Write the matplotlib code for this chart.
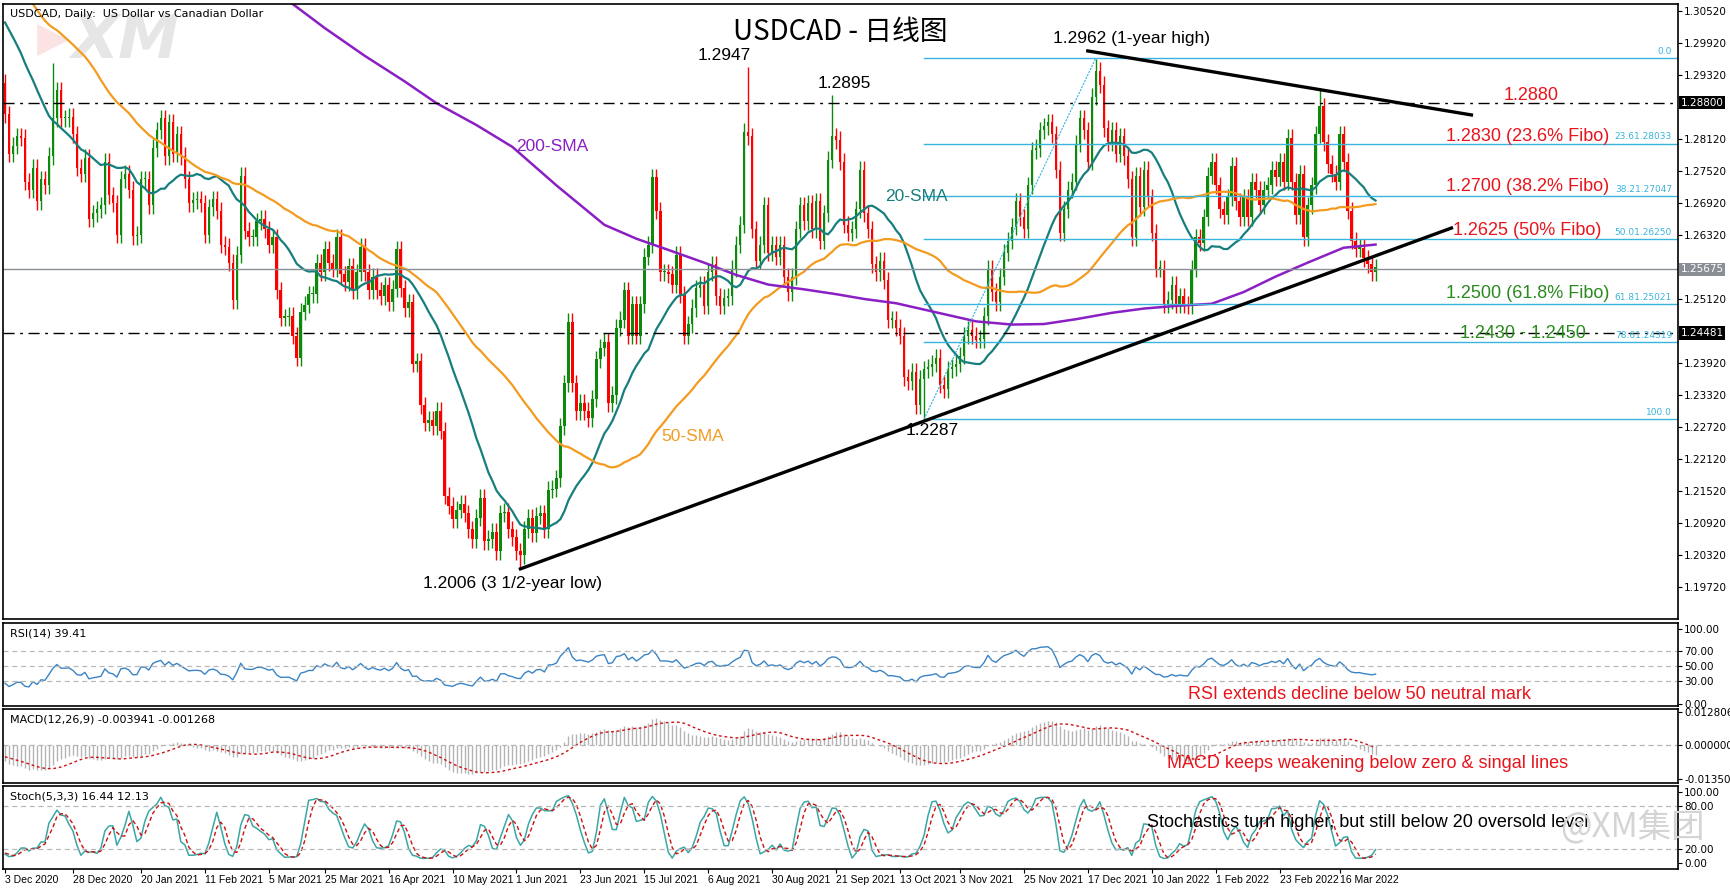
import matplotlib

matplotlib.use("Agg")
import matplotlib.pyplot as plt
import matplotlib.transforms as mtransforms
import numpy as np
import pandas as pd

# ---- data --------------------------------------------------------------
# closes before the visible window (only used to seed the indicators)
pre_closes = [
    1.3230, 1.3280, 1.3330, 1.3350, 1.3320, 1.3310, 1.3320, 1.3260, 1.3240, 1.3280,
    1.3200, 1.3160, 1.3130, 1.3140, 1.3170, 1.3200, 1.3180, 1.3170, 1.3140, 1.3120,
    1.3140, 1.3150, 1.3190, 1.3250, 1.3330, 1.3330, 1.3280, 1.3170, 1.3090, 1.3060,
    1.3100, 1.3060, 1.3080, 1.3110, 1.3120, 1.3100, 1.3050, 1.3070, 1.3050, 1.3070,
    1.3060, 1.3090, 1.3040, 1.3020, 1.3000, 1.2990, 1.2990, 1.2980, 1.2950, 1.2920,
]
first_open = 1.2917
closes = [
    # Dec 2020 - May 2021
    1.2858, 1.2784, 1.2799, 1.2817, 1.2814, 1.2732, 1.2717, 1.2758, 1.2695, 1.2736,
    1.2725, 1.2780, 1.2851, 1.2903, 1.2851, 1.2851, 1.2854, 1.2821, 1.2758, 1.2747,
    1.2777, 1.2662, 1.2673, 1.2680, 1.2688, 1.2769, 1.2706, 1.2691, 1.2632, 1.2736,
    1.2747, 1.2717, 1.2630, 1.2632, 1.2736, 1.2736, 1.2688, 1.2795, 1.2828, 1.2851,
    1.2780, 1.2843, 1.2784, 1.2821, 1.2780, 1.2736, 1.2691, 1.2697, 1.2699, 1.2691,
    1.2632, 1.2684, 1.2699, 1.2677, 1.2614, 1.2610, 1.2580, 1.2510, 1.2595, 1.2743,
    1.2640, 1.2628, 1.2628, 1.2658, 1.2662, 1.2643, 1.2614, 1.2628, 1.2528, 1.2477,
    1.2478, 1.2480, 1.2443, 1.2402, 1.2488, 1.2501, 1.2521, 1.2521, 1.2580, 1.2562,
    1.2605, 1.2580, 1.2569, 1.2628, 1.2558, 1.2543, 1.2573, 1.2528, 1.2562, 1.2610,
    1.2562, 1.2528, 1.2554, 1.2528, 1.2517, 1.2538, 1.2506, 1.2531, 1.2605, 1.2532,
    1.2495, 1.2506, 1.2391, 1.2395, 1.2313, 1.2280, 1.2286, 1.2273, 1.2302, 1.2265,
    1.2143, 1.2124, 1.2099, 1.2117, 1.2128,
    # May 2021 - Sep 2021
    1.2110, 1.2080, 1.2062, 1.2102, 1.2139, 1.2058, 1.2062, 1.2076, 1.2039, 1.2110,
    1.2113, 1.2080, 1.2065, 1.2039, 1.2032, 1.2080, 1.2102, 1.2073, 1.2106, 1.2110,
    1.2080, 1.2154, 1.2156, 1.2176, 1.2273, 1.2354, 1.2469, 1.2354, 1.2302, 1.2317,
    1.2302, 1.2288, 1.2325, 1.2399, 1.2421, 1.2432, 1.2317, 1.2332, 1.2458, 1.2473,
    1.2528, 1.2443, 1.2502, 1.2443, 1.2502, 1.2591, 1.2614, 1.2740, 1.2677, 1.2562,
    1.2562, 1.2558, 1.2539, 1.2595, 1.2521, 1.2443, 1.2465, 1.2495, 1.2532, 1.2539,
    1.2499, 1.2562, 1.2577, 1.2517, 1.2499, 1.2514, 1.2517, 1.2569, 1.2614, 1.2651,
    1.2825, 1.2817, 1.2643, 1.2584, 1.2614, 1.2688, 1.2599, 1.2614, 1.2591, 1.2614,
    1.2554, 1.2525, 1.2554, 1.2643, 1.2688, 1.2658, 1.2691, 1.2643, 1.2695, 1.2621,
    1.2673, 1.2773, 1.2817, 1.2810, 1.2769, 1.2651, 1.2636, 1.2643, 1.2680, 1.2754,
    1.2673, 1.2643, 1.2577, 1.2562, 1.2584, 1.2547, 1.2473, 1.2473, 1.2458, 1.2443,
    # Oct 2021 - Mar 2022
    1.2365, 1.2358, 1.2376, 1.2313, 1.2362, 1.2380, 1.2384, 1.2391, 1.2402, 1.2351,
    1.2343, 1.2380, 1.2384, 1.2391, 1.2406, 1.2443, 1.2454, 1.2443, 1.2436, 1.2437,
    1.2480, 1.2569, 1.2525, 1.2506, 1.2554, 1.2599, 1.2621, 1.2647, 1.2695, 1.2665,
    1.2643, 1.2725, 1.2791, 1.2795, 1.2828, 1.2836, 1.2843, 1.2821, 1.2754, 1.2636,
    1.2680, 1.2717, 1.2732, 1.2803, 1.2851, 1.2828, 1.2769, 1.2891, 1.2940, 1.2914,
    1.2832, 1.2806, 1.2828, 1.2784, 1.2817, 1.2780, 1.2736, 1.2628, 1.2743, 1.2684,
    1.2754, 1.2703, 1.2636, 1.2569, 1.2569, 1.2502, 1.2510, 1.2539, 1.2502, 1.2517,
    1.2502, 1.2499, 1.2569, 1.2628, 1.2617, 1.2665, 1.2743, 1.2769, 1.2725, 1.2680,
    1.2669, 1.2703, 1.2762, 1.2695, 1.2665, 1.2703, 1.2665, 1.2732, 1.2717, 1.2688,
    1.2717, 1.2725, 1.2754, 1.2740, 1.2769, 1.2732, 1.2814, 1.2732, 1.2669, 1.2747,
    1.2628, 1.2688, 1.2725, 1.2821, 1.2873, 1.2806, 1.2765, 1.2747, 1.2732, 1.2821,
    1.2769, 1.2677, 1.2621, 1.2606, 1.2608, 1.2588, 1.2577, 1.2562, 1.2571,
]
spike_highs = {12: 1.2955, 186: 1.2947, 207: 1.2895, 273: 1.2962, 329: 1.2903}
spike_lows = {129: 1.2006, 230: 1.2287}
wick = 0.0016

sma200_bars = [0, 40, 72, 80, 90, 100, 108, 118, 127, 138, 150, 158, 166, 175, 183, 191, 200, 208,
               215, 223, 233, 243, 252, 260, 268, 277, 285, 293, 302, 310, 318, 326, 335, 343]
sma200_vals = [1.345, 1.323, 1.3065, 1.3020, 1.2968, 1.2920, 1.2879, 1.2838, 1.2797, 1.2725,
               1.2651, 1.2625, 1.2604, 1.2580, 1.2557, 1.2539, 1.2530, 1.2521, 1.2512, 1.2504,
               1.2487, 1.2470, 1.2464, 1.2465, 1.2474, 1.2486, 1.2494, 1.2499, 1.2503, 1.2525,
               1.2554, 1.2580, 1.2608, 1.2614]

fib_ratios = ["0.0", "23.6", "38.2", "50.0", "61.8", "78.6", "100.0"]
fib_levels = [1.29637, 1.28033, 1.27047, 1.26250, 1.25021, 1.24319, 1.22866]
fib_start_bar = 230

date_labels = ["3 Dec 2020", "28 Dec 2020", "20 Jan 2021", "11 Feb 2021", "5 Mar 2021", "25 Mar 2021",
               "16 Apr 2021", "10 May 2021", "1 Jun 2021", "23 Jun 2021", "15 Jul 2021", "6 Aug 2021",
               "30 Aug 2021", "21 Sep 2021", "13 Oct 2021", "3 Nov 2021", "25 Nov 2021", "17 Dec 2021",
               "10 Jan 2022", "1 Feb 2022", "23 Feb 2022", "16 Mar 2022"]

support_res = [1.2880, 1.24481]
last_price = 1.25675

# ---- derived series ----------------------------------------------------
n = len(closes)
x = np.arange(n)
dates = pd.bdate_range("2020-12-03", periods=n)
c = np.array(closes)
o = np.array([first_open] + closes[:-1])
h = np.maximum(o, c) + wick
l = np.minimum(o, c) - wick
for k, v in spike_highs.items():
    h[k] = v
for k, v in spike_lows.items():
    l[k] = v

full_c = pd.Series(pre_closes + closes)
full_o = pd.Series([pre_closes[0]] + pre_closes + closes[:-1])
full_h = pd.Series(np.r_[np.maximum(full_o[:len(pre_closes)], pre_closes) + wick, h])
full_l = pd.Series(np.r_[np.minimum(full_o[:len(pre_closes)], pre_closes) - wick, l])
m = len(pre_closes)

sma20 = full_c.rolling(20, min_periods=1).mean().values[m:]
sma50 = full_c.rolling(50, min_periods=1).mean().values[m:]

diff = full_c.diff()
up = diff.clip(lower=0).ewm(alpha=1 / 14, adjust=False).mean()
dn = (-diff.clip(upper=0)).ewm(alpha=1 / 14, adjust=False).mean()
rsi = (100 - 100 / (1 + up / dn)).values[m:]

macd = full_c.ewm(span=12, adjust=False).mean() - full_c.ewm(span=26, adjust=False).mean()
signal = macd.rolling(9).mean()
macd, signal = macd.values[m:], signal.values[m:]

ll = full_l.rolling(5).min()
hh = full_h.rolling(5).max()
stoch_k = ((full_c - ll).rolling(3).sum() / (hh - ll).rolling(3).sum() * 100)
stoch_d = stoch_k.rolling(3).mean()
stoch_k, stoch_d = stoch_k.values[m:], stoch_d.values[m:]

# ---- figure ------------------------------------------------------------
W, H = 1731, 888
fig = plt.figure(figsize=(W / 100, H / 100), dpi=100)
left, right = 3 / W, 1678 / W


def panel(top_px, bot_px):
    return fig.add_axes([left, 1 - bot_px / H, right - left, (bot_px - top_px) / H])


ax = panel(4, 619)
ax_rsi = panel(623, 706)
ax_macd = panel(709, 783)
ax_st = panel(786, 869)
xlim = (-0.5, 418.7)

for a in (ax, ax_rsi, ax_macd, ax_st):
    a.set_xlim(*xlim)
    a.yaxis.tick_right()
    a.tick_params(axis="y", labelsize=7.5, length=3, pad=1.5, direction="out")
    a.tick_params(axis="x", length=0, labelbottom=False)
    for s in a.spines.values():
        s.set_linewidth(1.2)

GREEN, RED = "#0b8a0b", "#ff0000"
FIB = "#39b4dc"
font_ann = "Liberation Sans"

# candles
cols = np.where(c >= o, GREEN, RED)
ax.vlines(x, l, h, colors=cols, linewidth=1)
body = np.maximum(np.abs(c - o), 0.00025)
ax.bar(x, body, bottom=np.minimum(o, c), width=0.62, color=cols, linewidth=0)

ax.plot(x, sma20, color="#177e7e", lw=1.6)
ax.plot(x, sma50, color="#f39b1f", lw=1.6)
ax.plot(sma200_bars, sma200_vals, color="#8a1fc4", lw=1.8)

for lv in support_res:
    ax.axhline(lv, color="black", lw=1, ls=(0, (8, 4, 2, 4)))
ax.axhline(last_price, color="#8a8f96", lw=1)

for r, lv in zip(fib_ratios, fib_levels):
    ax.plot([fib_start_bar, xlim[1]], [lv, lv], color=FIB, lw=1)
    txt = r if r in ("0.0", "100.0") else f"{r}{lv:.5f}"
    ax.text(xlim[1] - 1.5, lv + 0.0004, txt, color=FIB, fontsize=6.5, ha="right", va="bottom")
ax.plot([fib_start_bar, 273], [fib_levels[-1], fib_levels[0]], color=FIB, lw=0.8, ls=(0, (2, 1)))

# trendlines
ax.plot([129, 362], [1.2006, 1.2645], color="black", lw=2.4)
ax.plot([271, 367], [1.2977, 1.2857], color="black", lw=2.4)

ax.set_ylim(1.1912, 1.3065)
yt = [round(1.30520 - 0.006 * k, 5) for k in range(19)]
yt = [v for v in yt if v not in (1.28720, 1.25720, 1.24520)]
ax.set_yticks(yt)
ax.set_yticklabels([f"{v:.5f}" for v in yt])
ytrans = mtransforms.blended_transform_factory(ax.transAxes, ax.transData)
for v, bg in ((1.28800, "black"), (1.25675, "#8a8f96"), (1.24481, "black")):
    ax.text(1.0015, v, f"{v:.5f}", transform=ytrans, fontsize=7.5, color="white", va="center",
            ha="left", bbox=dict(boxstyle="square,pad=0.15", fc=bg, ec="none"))

# annotations
ax.text(0.004, 0.992, "USDCAD, Daily:  US Dollar vs Canadian Dollar", transform=ax.transAxes,
        fontsize=8, va="top")
ax.text(12, 1.2998, "▶", fontsize=30, color="#fbe3e3", ha="center", va="center", zorder=0)
ax.text(30, 1.2995, "XM", fontsize=44, color="#e6e6e6", style="italic", weight="bold", ha="center",
        va="center", zorder=0)
ax.text(0.50, 0.955, "USDCAD - 日线图", transform=ax.transAxes, fontsize=20, ha="center", va="center",
        family=["Noto Sans CJK SC", "DejaVu Sans"])

black_notes = [("1.2947", 180, 1.2969), ("1.2895", 210, 1.2916), ("1.2962 (1-year high)", 282, 1.3001),
               ("1.2006 (3 1/2-year low)", 127, 1.1979), ("1.2287", 232, 1.2265)]
for t, bx, by in black_notes:
    ax.text(bx, by, t, fontsize=12.5, ha="center", va="center", family=font_ann)
for t, bx, by, col in (("200-SMA", 137, 1.2797, "#8a1fc4"), ("20-SMA", 228, 1.2705, "#177e7e"),
                       ("50-SMA", 172, 1.2254, "#f39b1f")):
    ax.text(bx, by, t, fontsize=12.5, ha="center", va="center", color=col, family=font_ann)
RED_T, GREEN_T = "#e8141c", "#2a8a1e"
fib_notes = [("1.2880", 382, 1.2894, RED_T), ("1.2830 (23.6% Fibo)", 381, 1.2816, RED_T),
             ("1.2700 (38.2% Fibo)", 381, 1.2722, RED_T), ("1.2625 (50% Fibo)", 381, 1.2641, RED_T),
             ("1.2500 (61.8% Fibo)", 381, 1.2523, GREEN_T), ("1.2430 - 1.2450", 380, 1.2448, GREEN_T)]
for t, bx, by, col in fib_notes:
    ax.text(bx, by, t, fontsize=13, ha="center", va="center", color=col, family=font_ann)

# RSI
ax_rsi.plot(x, rsi, color="#3a84c4", lw=1)
ax_rsi.set_ylim(-3, 108)
for lv in (70, 50, 30):
    ax_rsi.axhline(lv, color="#b8b8b8", lw=0.9, ls=(0, (4, 3)))
ax_rsi.set_yticks([100, 70, 50, 30, 0])
ax_rsi.set_yticklabels(["100.00", "70.00", "50.00", "30.00", "0.00"])
ax_rsi.text(0.004, 0.93, "RSI(14) 39.41", transform=ax_rsi.transAxes, fontsize=8, va="top")
ax_rsi.text(339, 12, "RSI extends decline below 50 neutral mark", color=RED_T, fontsize=13,
            ha="center", va="center", family=font_ann)

# MACD
ax_macd.vlines(x, 0, macd, colors="#b4b4b4", linewidth=1)
ax_macd.plot(x, signal, color="#cc1111", lw=1, ls=(0, (2, 2)))
ax_macd.axhline(0, color="#b4b4b4", lw=0.9, ls=(0, (4, 3)))
ax_macd.set_ylim(-0.0150, 0.0140)
ax_macd.set_yticks([0.012806, 0.0, -0.013501])
ax_macd.set_yticklabels(["0.012806", "0.000000", "-0.013501"])
ax_macd.text(0.004, 0.93, "MACD(12,26,9) -0.003941 -0.001268", transform=ax_macd.transAxes,
             fontsize=8, va="top")
ax_macd.text(341, -0.0075, "MACD keeps weakening below zero & singal lines", color=RED_T, fontsize=13,
             ha="center", va="center", family=font_ann)

# Stochastic
ax_st.plot(x, stoch_k, color="#3aa6a6", lw=1.1)
ax_st.plot(x, stoch_d, color="#cc1111", lw=1, ls=(0, (3, 2)))
for lv in (80, 20):
    ax_st.axhline(lv, color="#b8b8b8", lw=0.9, ls=(0, (4, 3)))
ax_st.set_ylim(-8, 108)
ax_st.set_yticks([100, 80, 20, 0])
ax_st.set_yticklabels(["100.00", "80.00", "20.00", "0.00"])
ax_st.text(0.004, 0.93, "Stoch(5,3,3) 16.44 12.13", transform=ax_st.transAxes, fontsize=8, va="top")
ax_st.text(341, 57, "Stochastics turn higher, but still below 20 oversold level", fontsize=13,
           ha="center", va="center", family=font_ann)

pos = dates.get_indexer(pd.to_datetime(date_labels, format="%d %b %Y"), method="nearest")
ax_st.set_xticks(pos)
ax_st.set_xticklabels(date_labels, fontsize=7.5, ha="left", family=font_ann)
ax_st.tick_params(axis="x", labelbottom=True, length=3, pad=1)

fig.text(0.985, 0.068, "@XM集团", ha="right", va="center", fontsize=24, color="#d4d4d4",
         family=["Noto Sans CJK SC", "DejaVu Sans"])

fig.savefig("out.png", dpi=100)
